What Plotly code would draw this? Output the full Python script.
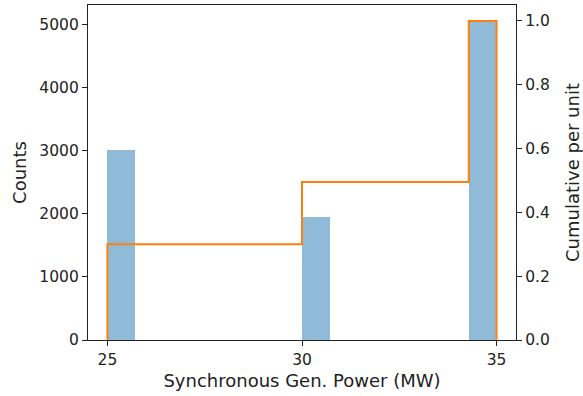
import numpy as np
import plotly.graph_objects as go

# Data
power_values = [25, 30, 35]          # MW
power_counts = [3000, 1950, 5050]    # occurrences
n_bins = 14
bin_range = (25, 35)

counts, edges = np.histogram(power_values, bins=n_bins, range=bin_range, weights=power_counts)
centers = (edges[:-1] + edges[1:]) / 2
width = edges[1] - edges[0]
cum = np.cumsum(counts) / counts.sum()

fig = go.Figure()
fig.add_trace(go.Bar(
    x=centers, y=counts, width=width,
    marker=dict(color="rgba(31,119,180,0.5)", line=dict(width=0)),
    yaxis="y", showlegend=False,
))
step_x = [edges[0]] + list(edges[:-1]) + [edges[-1]]
step_y = [0] + list(cum) + [0]
fig.add_trace(go.Scatter(
    x=step_x, y=step_y, mode="lines", line=dict(color="#ff7f0e", width=2, shape="hv"),
    yaxis="y2", showlegend=False,
))

font = dict(family="DejaVu Sans", color="#222222")
axis_common = dict(
    showline=True, linecolor="#222222", linewidth=1.2,
    ticks="outside", ticklen=5, tickwidth=1.2, tickcolor="#222222",
    showgrid=False, zeroline=False, automargin=False,
    tickfont=dict(family="DejaVu Sans", size=15.5, color="#222222"),
)

fig.update_layout(
    width=583, height=396,
    margin=dict(l=88, r=67, t=5, b=56),
    plot_bgcolor="white", paper_bgcolor="white",
    font=font,
    bargap=0,
    xaxis=dict(
        **axis_common, range=[24.5, 35.5], tickvals=[25, 30, 35], mirror=True,
        title=dict(text="Synchronous Gen. Power (MW)", font=dict(size=18), standoff=6),
    ),
    yaxis=dict(
        **axis_common, range=[0, 5050 * 1.05], tickvals=[0, 1000, 2000, 3000, 4000, 5000],
        title=dict(text="Counts", font=dict(size=18), standoff=8),
    ),
    yaxis2=dict(
        **axis_common, range=[0, 1.05], tickvals=[0, 0.2, 0.4, 0.6, 0.8, 1.0],
        tickformat=".1f", overlaying="y", side="right",
        title=dict(text="Cumulative per unit", font=dict(size=18), standoff=18),
    ),
)

fig.write_html("out.html")
